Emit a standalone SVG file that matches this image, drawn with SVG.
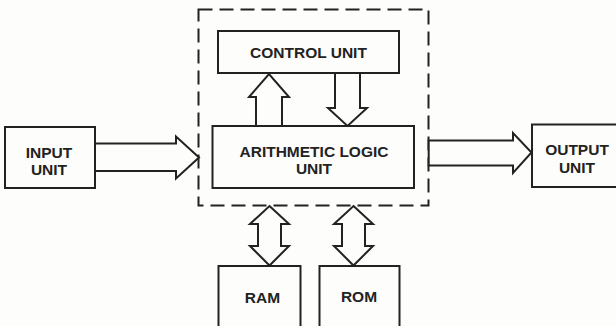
<svg xmlns="http://www.w3.org/2000/svg" width="616" height="326" viewBox="0 0 616 326">
<style>
.box{fill:none;stroke:#222;stroke-width:2}
.arr{fill:#fdfdfb;stroke:#222;stroke-width:2;stroke-linejoin:miter}
.dash{fill:none;stroke:#222;stroke-width:2;stroke-dasharray:14 7}
.t{font-family:"Liberation Sans",Arial,sans-serif;font-weight:bold;font-size:15.5px;fill:#222;text-anchor:middle}
</style>
<rect x="0" y="0" width="616" height="326" fill="#fdfdfb"/>
<g id="cpu">
<rect class="dash" x="198.5" y="9.5" width="230" height="196"/>
</g>
<g id="control-unit">
<rect class="box" x="218" y="31" width="181" height="42"/>
<text class="t" x="308.5" y="57.5">CONTROL UNIT</text>
</g>
<g id="alu">
<rect class="box" x="212.5" y="126" width="201.5" height="62"/>
<text class="t" x="314" y="156.5">ARITHMETIC LOGIC</text>
<text class="t" x="314" y="173.5">UNIT</text>
</g>
<g id="input-unit">
<rect class="box" x="5" y="127" width="90" height="61"/>
<text class="t" x="49" y="157.5">INPUT</text>
<text class="t" x="49" y="175">UNIT</text>
</g>
<g id="output-unit">
<rect class="box" x="532" y="124.5" width="90" height="62.5"/>
<text class="t" x="577" y="155">OUTPUT</text>
<text class="t" x="577" y="173">UNIT</text>
</g>
<g id="ram">
<rect class="box" x="218.5" y="266" width="82" height="70"/>
<text class="t" x="262.5" y="302.5">RAM</text>
</g>
<g id="rom">
<rect class="box" x="319.5" y="266" width="80" height="70"/>
<text class="t" x="359" y="302">ROM</text>
</g>
<g id="connectors">
<polygon class="arr" points="95,143.5 176,143.5 176,136.5 199,157.5 176,178.5 176,171 95,171"/>
<polygon class="arr" points="428.7,140.5 513,140.5 513,133 531.5,152.5 513,173 513,165.5 428.7,165.5"/>
<polygon class="arr" points="256,126 256,97 249,97 269,74 289,97 282,97 282,126"/>
<polygon class="arr" points="335,73 335,108 328,108 347.5,126 367,108 360,108 360,73"/>
<polygon class="arr" points="269.5,206 289,224 281,224 281,246 289,246 269.5,265.5 250,246 258,246 258,224 250,224"/>
<polygon class="arr" points="353.5,206 373,224 365,224 365,246 373,246 353.5,265.5 334,246 342,246 342,224 334,224"/>
</g>
</svg>
